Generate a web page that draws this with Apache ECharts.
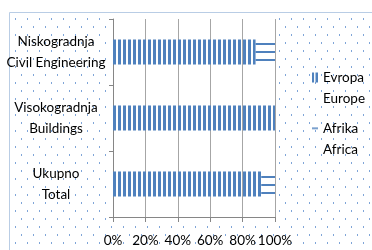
<!DOCTYPE html>
<html>
<head>
<meta charset="utf-8">
<script src="https://cdn.jsdelivr.net/npm/echarts@6/dist/echarts.min.js"></script>
<style>
  html, body { margin: 0; padding: 0; background: #fff; }
  #chart { width: 372px; height: 250px; }
</style>
</head>
<body>
<div id="chart"></div>
<script>
// data
var categories = ['Niskogradnja\nCivil Engineering', 'Visokogradnja\nBuildings', 'Ukupno\nTotal'];
var seriesNames = ['Evropa', 'Afrika'];
var legendLabels = ['Evropa\nEurope', 'Afrika\nAfrica'];
var evropa = [88, 100, 91.5];
var afrika = [12, 0, 8.5];
var xTicks = [0, 20, 40, 60, 80, 100];

var BLUE = '#4F81BD';
var FONT = 'Lato';
// row offset of the horizontal lines inside each Afrika bar (style only)
var afrikaLineOffset = [3, 3, 0];

function makeTile(w, h, draw) {
  var c = document.createElement('canvas');
  c.width = w;
  c.height = h;
  draw(c.getContext('2d'));
  return { image: c, repeat: 'repeat' };
}

var vStripes = makeTile(5, 5, function (ctx) {
  ctx.fillStyle = BLUE;
  ctx.fillRect(3, 0, 2, 5);
  ctx.fillRect(0, 0, 1, 5);
});
// legend swatches
var vStripesIcon = makeTile(6, 10, function (ctx) {
  ctx.fillStyle = BLUE;
  ctx.fillRect(0, 0, 2, 10);
  ctx.fillRect(3.5, 0, 2.5, 10);
});
var hLineIcon = makeTile(7, 10, function (ctx) {
  ctx.fillStyle = BLUE;
  ctx.fillRect(0, 4, 7, 1.5);
});
function hLines(offset) {
  return makeTile(8, 8, function (ctx) {
    ctx.fillStyle = BLUE;
    ctx.fillRect(0, offset, 8, 2);
  });
}
var dots = makeTile(12, 16, function (ctx) {
  ctx.fillStyle = '#fff';
  ctx.fillRect(0, 0, 12, 16);
  ctx.fillStyle = '#7FA5D8';
  ctx.fillRect(3, 2, 1, 2);
  ctx.fillRect(9, 10, 1, 2);
});

var chart = echarts.init(document.getElementById('chart'), null, { renderer: 'canvas' });

var option = {
  animation: false,
  backgroundColor: '#fff',
  graphic: {
    elements: [
      {
        type: 'rect', z: -10, silent: true,
        shape: { x: 9.5, y: 12.5, width: 400, height: 300 },
        style: { fill: dots, stroke: '#B9CDE5', lineWidth: 1 }
      },
      {
        type: 'rect', z: -9, silent: true,
        shape: { x: 108, y: 16, width: 171, height: 205 },
        style: { fill: '#fff' }
      }
    ]
  },
  grid: { left: 113, right: 97, top: 19, bottom: 33, containLabel: false },
  legend: {
    orient: 'vertical',
    left: 312,
    top: 46,
    padding: 0,
    itemWidth: 6,
    itemHeight: 10,
    itemGap: -12,
    selectedMode: false,
    data: [
      { name: seriesNames[0], icon: 'rect', itemStyle: { color: vStripesIcon } },
      { name: seriesNames[1], icon: 'rect', itemStyle: { color: hLineIcon } }
    ],
    formatter: function (name) {
      return '\n' + legendLabels[seriesNames.indexOf(name)];
    },
    textStyle: { fontFamily: FONT, fontSize: 13.5, lineHeight: 21, color: '#000' }
  },
  xAxis: {
    type: 'value',
    min: xTicks[0],
    max: xTicks[xTicks.length - 1],
    interval: xTicks[1] - xTicks[0],
    axisLine: { show: true, lineStyle: { color: '#868686', width: 1 } },
    axisTick: { show: true, length: 5, lineStyle: { color: '#868686' } },
    splitLine: { show: true, lineStyle: { color: '#A6A6A6', width: 1 } },
    axisLabel: {
      formatter: '{value}%',
      fontFamily: FONT, fontSize: 13.5, color: '#000', margin: 17
    }
  },
  yAxis: {
    type: 'category',
    inverse: true,
    data: categories,
    axisLine: { show: true, lineStyle: { color: '#868686', width: 1 } },
    axisTick: { show: true, length: 4, alignWithLabel: false, lineStyle: { color: '#868686' } },
    splitLine: { show: false },
    axisLabel: {
      align: 'center',
      margin: 57,
      fontFamily: FONT, fontSize: 13.5, lineHeight: 21, color: '#000'
    }
  },
  series: [
    {
      name: seriesNames[0],
      type: 'bar',
      stack: 'total',
      barWidth: 25,
      itemStyle: { color: vStripes },
      data: evropa
    },
    {
      name: seriesNames[1],
      type: 'bar',
      stack: 'total',
      barWidth: 25,
      itemStyle: { color: BLUE },
      data: afrika.map(function (v, i) {
        return { value: v, itemStyle: { color: hLines(afrikaLineOffset[i]) } };
      })
    }
  ]
};

chart.setOption(option);
</script>
</body>
</html>
